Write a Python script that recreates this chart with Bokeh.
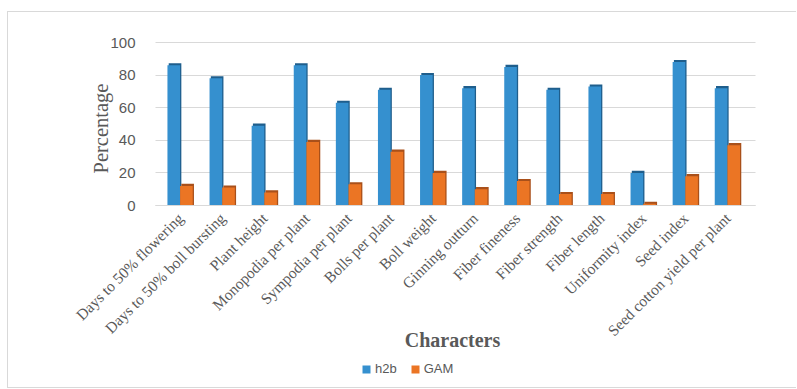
from bokeh.plotting import figure
from bokeh.models import ColumnDataSource, Range1d, Legend, LegendItem, Label, FixedTicker
from bokeh.transform import dodge
from bokeh.embed import file_html
from bokeh.resources import INLINE
import math

categories = ["Days to 50% flowering", "Days to 50% boll bursting", "Plant height",
              "Monopodia per plant", "Sympodia per plant", "Bolls per plant",
              "Boll weight", "Ginning outturn", "Fiber fineness", "Fiber strength",
              "Fiber length", "Uniformity index", "Seed index",
              "Seed cotton yield per plant"]
h2b = [86, 78, 49, 86, 63, 71, 80, 72, 85, 71, 73, 20, 88, 72]
gam = [12, 11, 8, 39, 13, 33, 20, 10, 15, 7, 7, 1, 18, 37]
y_ticks = [0, 20, 40, 60, 80, 100]

idx = list(range(len(categories)))
depth = 1.3
src = ColumnDataSource(dict(
    x=idx, h2b=h2b, gam=gam,
    h2b_side=[v + depth for v in h2b],
    gam_side=[v + depth for v in gam],
))

BLUE = "#3590CF"
BLUE_D = "#1F5E8C"
ORANGE = "#EB7524"
ORANGE_D = "#A9501A"
GRAY = "#595959"

# canvas = frame; placed at page (8, 12), 789 x 377
W, H = 789, 377
px_x = 42.1          # px per category
px_y = 1.63          # px per percent
x0 = -(180 - 8) / px_x
x1 = x0 + W / px_x
y1 = 100 + (42 - 12) / px_y
y0 = y1 - H / px_y
left_edge = (155 - 180) / px_x
right_edge = (755 - 180) / px_x

p = figure(width=W, height=H, x_range=Range1d(x0, x1), y_range=Range1d(y0, y1),
           output_backend="svg", toolbar_location=None,
           min_border=0, min_border_left=0, min_border_right=0,
           min_border_top=0, min_border_bottom=0)

bw = 0.3
p.vbar(x=dodge("x", -0.13), top="h2b_side", width=bw,
       color=BLUE_D, line_color=None, source=src)
r1 = p.vbar(x=dodge("x", -0.16), top="h2b", width=bw,
            color=BLUE, line_color=None, source=src)
p.vbar(x=dodge("x", 0.17), top="gam_side", width=bw,
       color=ORANGE_D, line_color=None, source=src)
r2 = p.vbar(x=dodge("x", 0.14), top="gam", width=bw,
            color=ORANGE, line_color=None, source=src)

p.outline_line_color = None
p.xgrid.grid_line_color = None
p.ygrid.ticker = FixedTicker(ticks=y_ticks)
p.ygrid.grid_line_color = "#D9D9D9"
p.ygrid.grid_line_width = 1
p.ygrid.cross_bounds = (left_edge, right_edge)

p.yaxis.fixed_location = left_edge
p.yaxis.ticker = FixedTicker(ticks=y_ticks)
p.yaxis.bounds = (0, 100)
p.yaxis.axis_line_color = None
p.yaxis.major_tick_line_color = None
p.yaxis.minor_tick_line_color = None
p.yaxis.major_label_standoff = 14
p.yaxis.major_label_text_font = "Liberation Sans"
p.yaxis.major_label_text_font_size = "15px"
p.yaxis.major_label_text_color = GRAY

p.xaxis.fixed_location = 0
p.xaxis.ticker = FixedTicker(ticks=idx)
p.xaxis.major_label_overrides = {i: c for i, c in zip(idx, categories)}
p.xaxis.bounds = (left_edge, right_edge)
p.xaxis.axis_line_color = "#D9D9D9"
p.xaxis.major_tick_line_color = None
p.xaxis.minor_tick_line_color = None
p.xaxis.major_label_orientation = math.pi / 4
p.xaxis.major_label_text_font = "Liberation Serif"
p.xaxis.major_label_text_font_size = "15.5px"
p.xaxis.major_label_text_color = GRAY
p.xaxis.major_label_standoff = 4

# screen positions relative to the canvas' bottom-left corner (page x 8, y 389)
ylab = Label(x=92, y=261, x_units="screen", y_units="screen", angle=math.pi / 2,
             text="Percentage", text_font="Liberation Serif",
             text_font_size="20.5px", text_color=GRAY,
             text_align="center", text_baseline="middle")
p.add_layout(ylab)

title = Label(x=444, y=50, x_units="screen", y_units="screen",
              text="Characters", text_font="Liberation Serif",
              text_font_size="20px", text_font_style="bold", text_color=GRAY,
              text_align="center", text_baseline="middle")
p.add_layout(title)

legend = Legend(items=[LegendItem(label="h2b", renderers=[r1]),
                       LegendItem(label="GAM", renderers=[r2])],
                orientation="horizontal", location=(353, 13),
                padding=0, margin=0, spacing=13, glyph_width=10, glyph_height=10,
                label_standoff=4, label_text_font="Liberation Sans",
                label_text_font_size="13px", label_text_color=GRAY,
                border_line_alpha=0, background_fill_alpha=0)
p.add_layout(legend, "center")

p.styles = {"border-left": "1px solid #D9D9D9", "border-top": "1px solid #D9D9D9",
            "border-bottom": "1px solid #D9D9D9", "margin-left": "7px",
            "margin-top": "11px"}

open("out.html", "w").write(file_html(p, INLINE))
